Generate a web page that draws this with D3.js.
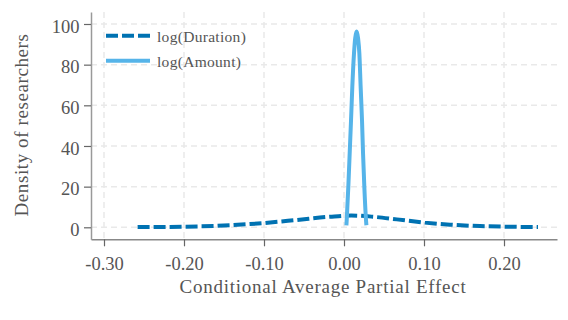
<!DOCTYPE html>
<html>
<head>
<meta charset="utf-8">
<script src="https://cdn.jsdelivr.net/npm/d3@7"></script>
<style>
  html, body { margin: 0; padding: 0; background: #fff; }
  svg { display: block; }
  text { font-family: "Liberation Serif", "Times New Roman", serif; fill: #555; }
</style>
</head>
<body>
<svg id="chart" width="568" height="320"></svg>
<script>
// ---- data ----
const durationX = [-0.258, -0.2, -0.1425, -0.1, -0.059, -0.0175, 0.009, 0.036, 0.066, 0.101, 0.1325, 0.17, 0.203, 0.2425];
const durationY = [0.1, 0.3, 1.0, 2.1, 3.6, 5.2, 5.8, 5.2, 3.9, 2.3, 1.3, 0.6, 0.3, 0.1];

const amountX = [0.0030, 0.0034, 0.0054, 0.0071, 0.0088, 0.0104, 0.0125, 0.0140, 0.0158, 0.0176, 0.0192, 0.0208, 0.0225, 0.0238, 0.0254, 0.0275, 0.0280];
const amountY = [1.0, 3.6, 20, 36.4, 52.8, 69.2, 85.6, 93, 96.3, 93, 85.6, 69.2, 52.8, 36.4, 20, 3.6, 1.0];

const xTicks = [-0.3, -0.2, -0.1, 0.0, 0.1, 0.2];
const xTickLabels = ["-0.30", "-0.20", "-0.10", "0.00", "0.10", "0.20"];
const yTicks = [0, 20, 40, 60, 80, 100];
const yTickLabels = ["0", "20", "40", "60", "80", "100"];

const seriesNames = ["log(Duration)", "log(Amount)"];
const seriesColors = ["#0072B2", "#56B4E9"];
const xTitle = "Conditional Average Partial Effect";
const yTitle = "Density of researchers";

// ---- layout ----
const svg = d3.select("#chart");
const pLeft = 91, pRight = 557, pTop = 12, pBottom = 239.3;

const x = d3.scaleLinear().domain([-0.31625, 0.26625]).range([pLeft, pRight]);
const y = d3.scaleLinear().domain([-5.9, 105.9]).range([pBottom, pTop]);

// grid
const grid = svg.append("g");
grid.selectAll("line.h").data(yTicks).join("line").attr("class", "h")
  .attr("x1", pLeft).attr("x2", pRight)
  .attr("y1", d => y(d)).attr("y2", d => y(d))
  .attr("stroke", "#e9e9e9").attr("stroke-width", 1.5).attr("stroke-dasharray", "6,4");
grid.selectAll("line.v").data(xTicks).join("line").attr("class", "v")
  .attr("y1", pTop).attr("y2", pBottom)
  .attr("x1", d => x(d)).attr("x2", d => x(d))
  .attr("stroke", "#e9e9e9").attr("stroke-width", 1.5).attr("stroke-dasharray", "6,4");

// axes
const xAxis = d3.axisBottom(x).tickValues(xTicks).tickSize(7).tickSizeOuter(0)
  .tickFormat((d, i) => xTickLabels[i]);
const gx = svg.append("g").attr("transform", `translate(0,${pBottom})`).call(xAxis);
gx.select(".domain").attr("stroke", "#888").attr("stroke-width", 1.5);
gx.selectAll(".tick line").attr("stroke", "#666").attr("stroke-width", 1.2);
gx.selectAll(".tick text").attr("y", 270 - pBottom).attr("dy", 0)
  .style("font-family", "Liberation Serif").style("font-size", "18.5px").attr("fill", "#555");

const yAxis = d3.axisLeft(y).tickValues(yTicks).tickSize(7).tickSizeOuter(0)
  .tickFormat((d, i) => yTickLabels[i]);
const gy = svg.append("g").attr("transform", `translate(${pLeft},0)`).call(yAxis);
gy.select(".domain").attr("stroke", "#999").attr("stroke-width", 1.5);
gy.selectAll(".tick line").attr("stroke", "#666").attr("stroke-width", 1.2);
gy.selectAll(".tick text").attr("x", -11.5).attr("dy", "0.45em")
  .style("font-family", "Liberation Serif").style("font-size", "18.5px").attr("fill", "#555");

// lines
const dur = durationX.map((d, i) => [d, durationY[i]]);
const amt = amountX.map((d, i) => [d, amountY[i]]);
const line = d3.line().x(d => x(d[0])).y(d => y(d[1])).curve(d3.curveMonotoneX);

svg.append("path").datum(dur).attr("d", line)
  .attr("fill", "none").attr("stroke", seriesColors[0]).attr("stroke-width", 4)
  .attr("stroke-dasharray", "12,4");
svg.append("path").datum(amt).attr("d", line)
  .attr("fill", "none").attr("stroke", seriesColors[1]).attr("stroke-width", 4);

// legend
const legendY = [35.7, 60.7];
const lg = svg.append("g");
seriesNames.forEach((name, i) => {
  lg.append("line").attr("x1", 106).attr("x2", 150).attr("y1", legendY[i]).attr("y2", legendY[i])
    .attr("stroke", seriesColors[i]).attr("stroke-width", 4)
    .attr("stroke-dasharray", i === 0 ? "12,4" : null);
  lg.append("text").attr("x", 157).attr("y", legendY[i] + 6.3)
    .style("font-size", "15.5px").style("letter-spacing", "0.3px").text(name);
});

// titles
svg.append("text").attr("x", (pLeft + pRight) / 2 - 1).attr("y", 293)
  .attr("text-anchor", "middle").style("font-size", "19px").style("letter-spacing", "0.75px")
  .text(xTitle);
svg.append("text").attr("transform", "translate(27.5,125) rotate(-90)")
  .attr("text-anchor", "middle").style("font-size", "19px").style("letter-spacing", "0.6px")
  .text(yTitle);
</script>
</body>
</html>
